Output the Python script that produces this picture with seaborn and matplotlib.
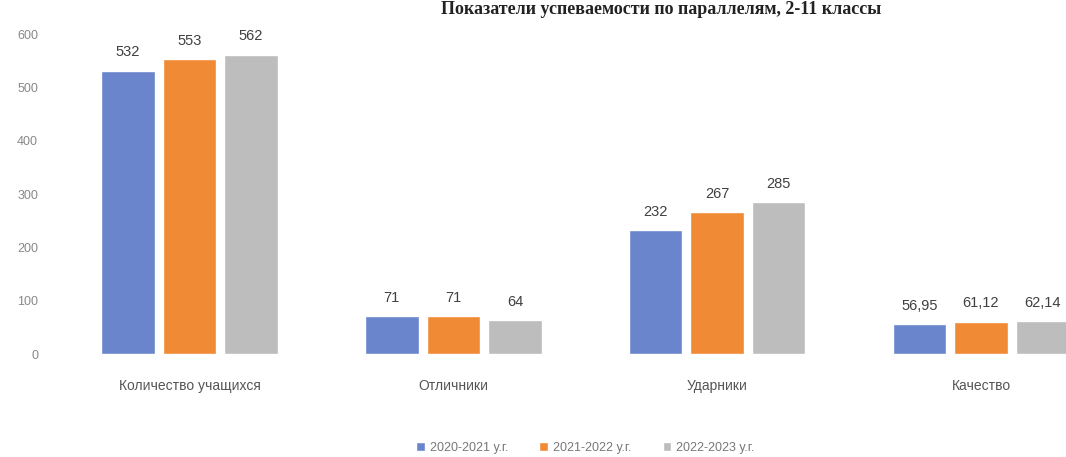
import matplotlib
matplotlib.use("Agg")
import matplotlib.pyplot as plt
import seaborn as sns
import pandas as pd

categories = ["Количество учащихся", "Отличники", "Ударники", "Качество"]
years = ["2020-2021 у.г.", "2021-2022 у.г.", "2022-2023 у.г."]
v_2020 = [532, 71, 232, 56.95]
v_2021 = [553, 71, 267, 61.12]
v_2022 = [562, 64, 285, 62.14]
labels_2020 = ["532", "71", "232", "56,95"]
labels_2021 = ["553", "71", "267", "61,12"]
labels_2022 = ["562", "64", "285", "62,14"]
yticks = [0, 100, 200, 300, 400, 500, 600]
title = "Показатели успеваемости по параллелям, 2-11 классы"

colors = ["#6a85cc", "#f08a35", "#bdbdbd"]

rows = []
for y, vals in zip(years, [v_2020, v_2021, v_2022]):
    for c, v in zip(categories, vals):
        rows.append({"cat": c, "year": y, "value": v})
df = pd.DataFrame(rows)

sns.set_theme(style="white")
plt.rcParams["font.family"] = ["Liberation Sans", "DejaVu Sans"]

fig = plt.figure(figsize=(10.66, 4.57), dpi=100)
ax = fig.add_axes([0.054, 0.225, 0.99, 0.70])
sns.barplot(data=df, x="cat", y="value", hue="year", palette=colors,
            width=0.70, gap=0.13, ax=ax, legend=True, saturation=1)

all_labels = [labels_2020, labels_2021, labels_2022]
for cont, labs in zip(ax.containers, all_labels):
    ax.bar_label(cont, labels=labs, padding=8, fontsize=10.5, color="#404040", clip_on=False)

ax.set_ylim(0, 600)
ax.set_yticks(yticks)
ax.set_yticklabels([str(t) for t in yticks], fontsize=9, color="#888888")
ax.tick_params(axis="x", labelsize=10, colors="#555555", pad=18, length=0)
ax.tick_params(axis="y", length=0, pad=14)
ax.set_xlabel("")
ax.set_ylabel("")
for s in ax.spines.values():
    s.set_visible(False)

leg = ax.legend(loc="upper center", bbox_to_anchor=(0.5, -0.24), ncol=3, frameon=False,
                fontsize=9, handlelength=0.7, handleheight=0.7, columnspacing=2.5,
                handletextpad=0.4)
for t in leg.get_texts():
    t.set_color("#777777")

fig.text(0.62, 0.997, title, ha="center", va="top", fontsize=13,
         fontweight="bold", family=["Liberation Serif", "DejaVu Serif"], color="#222222")

fig.savefig("out.png", dpi=100)
